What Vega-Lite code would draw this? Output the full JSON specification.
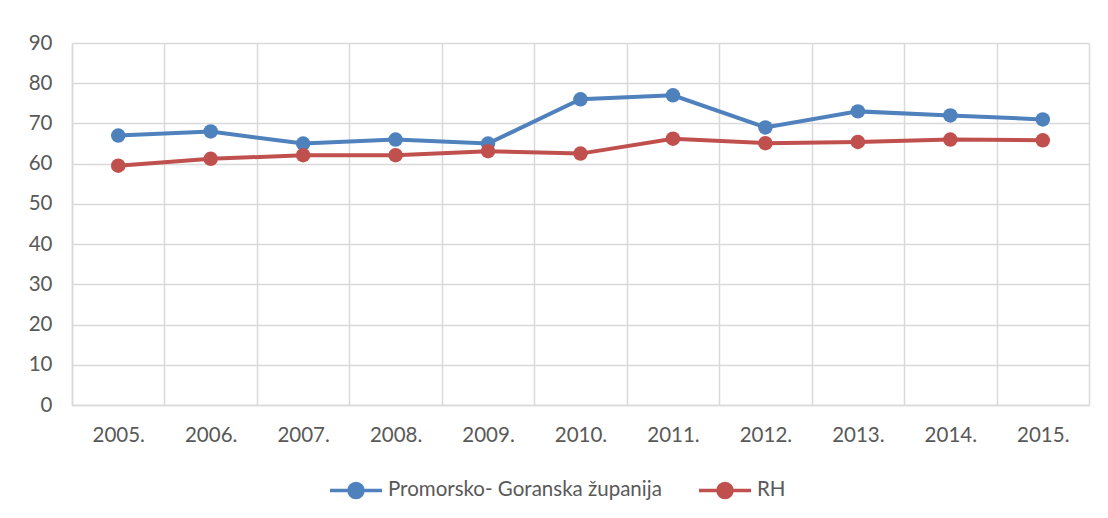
{
  "$schema": "https://vega.github.io/schema/vega-lite/v6.json",
  "width": 1017,
  "height": 362,
  "autosize": "none",
  "padding": {"left": 72, "top": 43, "right": 19, "bottom": 113},
  "background": "white",
  "config": {
    "view": {"stroke": null},
    "font": "Lato"
  },
  "data": {
    "values": [
      {"year": "2005.", "series": "Promorsko- Goranska županija", "value": 67},
      {"year": "2006.", "series": "Promorsko- Goranska županija", "value": 68},
      {"year": "2007.", "series": "Promorsko- Goranska županija", "value": 65},
      {"year": "2008.", "series": "Promorsko- Goranska županija", "value": 66},
      {"year": "2009.", "series": "Promorsko- Goranska županija", "value": 65},
      {"year": "2010.", "series": "Promorsko- Goranska županija", "value": 76},
      {"year": "2011.", "series": "Promorsko- Goranska županija", "value": 77},
      {"year": "2012.", "series": "Promorsko- Goranska županija", "value": 69},
      {"year": "2013.", "series": "Promorsko- Goranska županija", "value": 73},
      {"year": "2014.", "series": "Promorsko- Goranska županija", "value": 72},
      {"year": "2015.", "series": "Promorsko- Goranska županija", "value": 71},
      {"year": "2005.", "series": "RH", "value": 59.5},
      {"year": "2006.", "series": "RH", "value": 61.2},
      {"year": "2007.", "series": "RH", "value": 62.1},
      {"year": "2008.", "series": "RH", "value": 62.1},
      {"year": "2009.", "series": "RH", "value": 63.1},
      {"year": "2010.", "series": "RH", "value": 62.5},
      {"year": "2011.", "series": "RH", "value": 66.2},
      {"year": "2012.", "series": "RH", "value": 65.1},
      {"year": "2013.", "series": "RH", "value": 65.4},
      {"year": "2014.", "series": "RH", "value": 66.0},
      {"year": "2015.", "series": "RH", "value": 65.8}
    ]
  },
  "encoding": {
    "x": {
      "field": "year",
      "type": "ordinal",
      "sort": null,
      "scale": {"type": "band", "paddingInner": 0, "paddingOuter": 0},
      "axis": {
        "title": null,
        "tickBand": "extent",
        "ticks": false,
        "grid": true,
        "gridColor": "#d9d9d9",
        "gridWidth": 1.5,
        "domainColor": "#d9d9d9",
        "domainWidth": 1.5,
        "labelAngle": 0,
        "labelFontSize": 20.5,
        "labelColor": "#595959",
        "labelPadding": 20
      }
    },
    "y": {
      "field": "value",
      "type": "quantitative",
      "scale": {"domain": [0, 90], "nice": false},
      "axis": {
        "title": null,
        "values": [0, 10, 20, 30, 40, 50, 60, 70, 80, 90],
        "ticks": false,
        "grid": true,
        "gridColor": "#d9d9d9",
        "gridWidth": 1.5,
        "domainColor": "#d9d9d9",
        "domainWidth": 1.5,
        "labelFontSize": 20.5,
        "labelColor": "#595959",
        "labelPadding": 20
      }
    },
    "color": {
      "field": "series",
      "type": "nominal",
      "sort": ["Promorsko- Goranska županija", "RH"],
      "scale": {"domain": ["Promorsko- Goranska županija", "RH"], "range": ["#4F81BD", "#C0504D"]},
      "legend": {
        "title": null,
        "orient": "none",
        "legendX": 256,
        "legendY": 419,
        "direction": "horizontal",
        "symbolType": "M-1,0H1M-0.27,0A0.27,0.27 0 1,1 0.27,0A0.27,0.27 0 1,1 -0.27,0",
        "symbolSize": 2704,
        "symbolStrokeWidth": 3.5,
        "symbolOpacity": 1,
        "labelFontSize": 20.5,
        "labelLimit": 0,
        "labelColor": "#595959",
        "labelOffset": 4,
        "columnPadding": 30,
        "encode": {
          "symbols": {
            "update": {
              "fill": {"scale": "color", "field": "value"},
              "stroke": {"scale": "color", "field": "value"},
              "opacity": {"value": 1}
            }
          }
        }
      }
    }
  },
  "layer": [
    {"mark": {"type": "line", "strokeWidth": 4}},
    {"mark": {"type": "circle", "size": 210, "opacity": 1}}
  ]
}
